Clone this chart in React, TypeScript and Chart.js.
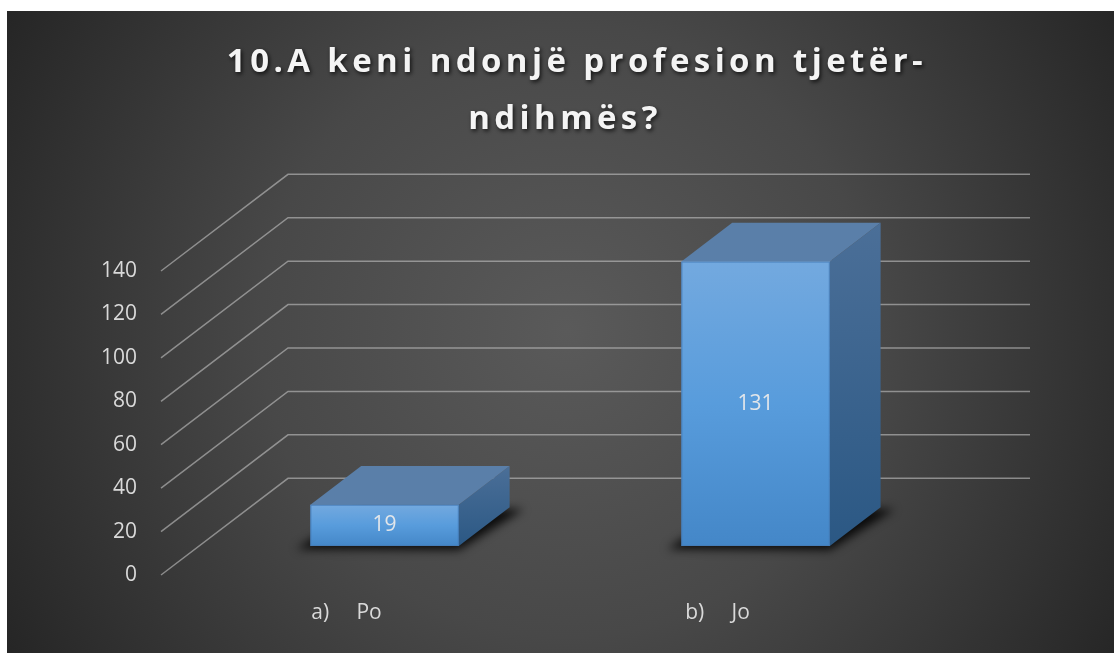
import React, { useEffect, useRef } from "react";
import { Chart, registerables } from "chart.js";

Chart.register(...registerables);

// ---------- data ----------
const TITLE_LINES = ["10.A keni ndonjë profesion tjetër-", "ndihmës?"];
const CATEGORIES = ["a)     Po", "b)     Jo"];
const VALUES = [19, 131];
const Y_MIN = 0;
const Y_MAX = 140;
const Y_STEP = 20;

// ---------- 3D look ----------
const DEPTH_DX = 127;
const DEPTH_DY = -96.7;
const BAR_FRONT = 0.3;
const BAR_BACK = 0.7;
const FONT = "'Open Sans', 'Noto Sans', sans-serif";

const threeDPlugin = {
  id: "threeD",
  beforeDraw(chart: any) {
    const { ctx, width, height } = chart;
    ctx.save();
    const cx = 560;
    const cy = 320;
    const g = ctx.createRadialGradient(cx, cy, 0, cx, cy, 680);
    g.addColorStop(0, "#5a5a5a");
    g.addColorStop(0.45, "#484848");
    g.addColorStop(1, "#222222");
    ctx.fillStyle = g;
    ctx.fillRect(0, 0, width, height);

    // title
    ctx.font = `bold 33px ${FONT}`;
    (ctx as any).letterSpacing = "4.4px";
    ctx.textAlign = "center";
    ctx.textBaseline = "alphabetic";
    ctx.fillStyle = "#f4f4f4";
    ctx.shadowColor = "rgba(0,0,0,0.75)";
    ctx.shadowBlur = 4;
    ctx.shadowOffsetX = 1.5;
    ctx.shadowOffsetY = 2;
    ctx.fillText(TITLE_LINES[0], 570, 61);
    ctx.fillText(TITLE_LINES[1], 558, 118);
    ctx.restore();
  },
  beforeDatasetsDraw(chart: any) {
    const { ctx, chartArea } = chart;
    const ys = chart.scales.y;
    ctx.save();
    ctx.strokeStyle = "rgba(195,195,195,0.6)";
    ctx.lineWidth = 1.5;
    ys.ticks.forEach((t: any) => {
      const py = ys.getPixelForValue(t.value);
      ctx.beginPath();
      ctx.moveTo(chartArea.left, py);
      ctx.lineTo(chartArea.left + DEPTH_DX, py + DEPTH_DY);
      ctx.lineTo(chartArea.right + DEPTH_DX, py + DEPTH_DY);
      ctx.stroke();
    });
    ctx.restore();
  },
  afterDatasetsDraw(chart: any) {
    const { ctx } = chart;
    const meta = chart.getDatasetMeta(0);
    const ddx = (BAR_BACK - BAR_FRONT) * DEPTH_DX;
    const ddy = (BAR_BACK - BAR_FRONT) * DEPTH_DY;
    meta.data.forEach((bar: any, i: number) => {
      const { x, y, base, width } = bar.getProps(["x", "y", "base", "width"], true);
      const x0 = x - width / 2 + BAR_FRONT * DEPTH_DX;
      const x1 = x + width / 2 + BAR_FRONT * DEPTH_DX;
      const yt = y + BAR_FRONT * DEPTH_DY;
      const yb = base + BAR_FRONT * DEPTH_DY;

      // shadow on the floor
      ctx.save();
      ctx.filter = "blur(5px)";
      ctx.fillStyle = "rgba(0,0,0,0.85)";
      ctx.beginPath();
      ctx.moveTo(x0 - 14, yb + 3);
      ctx.lineTo(x1, yb + 4);
      ctx.lineTo(x1 + ddx + 14, yb + ddy + 2);
      ctx.lineTo(x0 + ddx, yb + ddy);
      ctx.closePath();
      ctx.fill();
      ctx.restore();

      ctx.save();
      // side face
      const sg = ctx.createLinearGradient(0, yt + ddy, 0, yb);
      sg.addColorStop(0, "#4b6f98");
      sg.addColorStop(1, "#2b5884");
      ctx.fillStyle = sg;
      ctx.beginPath();
      ctx.moveTo(x1, yt);
      ctx.lineTo(x1 + ddx, yt + ddy);
      ctx.lineTo(x1 + ddx, yb + ddy);
      ctx.lineTo(x1, yb);
      ctx.closePath();
      ctx.fill();

      // top face
      ctx.fillStyle = "#5a7fa9";
      ctx.beginPath();
      ctx.moveTo(x0, yt);
      ctx.lineTo(x1, yt);
      ctx.lineTo(x1 + ddx, yt + ddy);
      ctx.lineTo(x0 + ddx, yt + ddy);
      ctx.closePath();
      ctx.fill();

      // front face
      const fg = ctx.createLinearGradient(0, yt, 0, yb);
      fg.addColorStop(0, "#73a9df");
      fg.addColorStop(0.5, "#589cdc");
      fg.addColorStop(1, "#4487c8");
      ctx.fillStyle = fg;
      ctx.fillRect(x0, yt, x1 - x0, yb - yt);
      ctx.strokeStyle = "rgba(70,125,185,0.9)";
      ctx.lineWidth = 1;
      ctx.strokeRect(x0 + 0.5, yt + 0.5, x1 - x0 - 1, yb - yt - 1);

      // value label
      ctx.font = `21px ${FONT}`;
      ctx.fillStyle = "#e2e6ea";
      ctx.textAlign = "center";
      ctx.textBaseline = "middle";
      ctx.fillText(String(VALUES[i]), (x0 + x1) / 2, (yt + yb) / 2);
      ctx.restore();
    });
  },
};

export default function App() {
  const canvasRef = useRef<HTMLCanvasElement | null>(null);

  useEffect(() => {
    if (!canvasRef.current) return;
    const chart = new Chart(canvasRef.current, {
      type: "bar",
      data: {
        labels: CATEGORIES,
        datasets: [
          {
            label: "Numri",
            data: VALUES,
            backgroundColor: "rgba(0,0,0,0)",
            borderWidth: 0,
            barPercentage: 0.4,
            categoryPercentage: 1,
          },
        ],
      },
      options: {
        animation: false,
        responsive: false,
        maintainAspectRatio: false,
        devicePixelRatio: 1,
        layout: { padding: { top: 260, right: 211, bottom: 0, left: 0 } },
        plugins: {
          legend: { display: false },
          title: { display: false },
          tooltip: { enabled: false },
        },
        scales: {
          x: {
            grid: { display: false, drawTicks: false },
            border: { display: false },
            ticks: {
              color: "#d9d9d9",
              font: { family: FONT, size: 21 },
              padding: 25,
              maxRotation: 0,
              autoSkip: false,
            },
            afterFit: (s: any) => {
              s.height = 78;
            },
          },
          y: {
            min: Y_MIN,
            max: Y_MAX,
            grid: { display: false, drawTicks: false },
            border: { display: false },
            ticks: {
              stepSize: Y_STEP,
              color: "#d9d9d9",
              font: { family: FONT, size: 21 },
              padding: 24,
            },
            afterFit: (s: any) => {
              s.width = 154;
            },
          },
        },
      },
      plugins: [threeDPlugin],
    });
    return () => chart.destroy();
  }, []);

  return (
    <div style={{ position: "fixed", left: 7, top: 11, width: 1107, height: 642 }}>
      <canvas ref={canvasRef} width={1107} height={642} style={{ display: "block", width: 1107, height: 642 }} />
    </div>
  );
}
